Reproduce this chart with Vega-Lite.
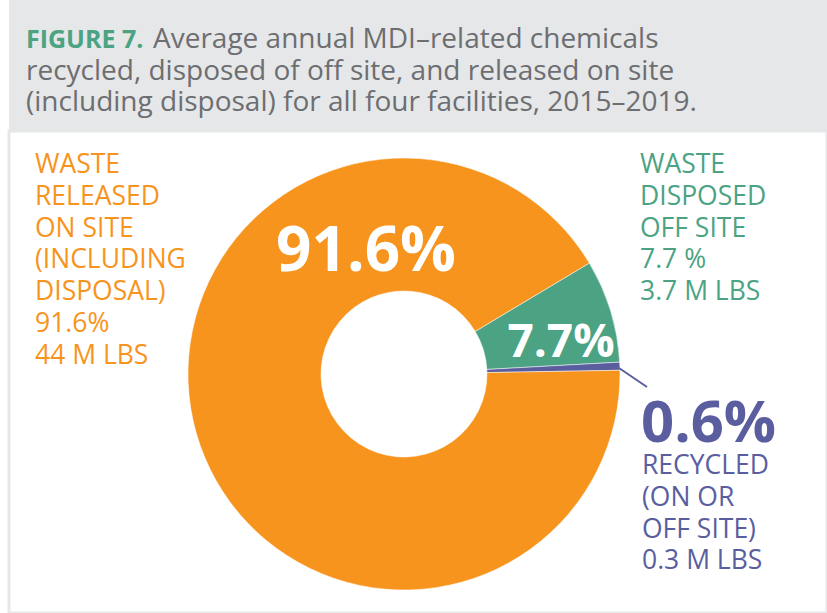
{
  "$schema": "https://vega.github.io/schema/vega-lite/v6.json",
  "background": "white",
  "padding": {"left": 7, "top": 0, "right": 0, "bottom": 0},
  "spacing": 0,
  "bounds": "flush",
  "config": {"view": {"stroke": null}, "font": "Open Sans"},
  "datasets": {
    "shares": [
      {"category": "Waste disposed off site", "pct": 7.7, "lbs": "3.7 M LBS", "order": 1},
      {"category": "Recycled (on or off site)", "pct": 0.6, "lbs": "0.3 M LBS", "order": 2},
      {"category": "Waste released on site (including disposal)", "pct": 91.6, "lbs": "44 M LBS", "order": 3}
    ],
    "labels": [
      {"id": "left", "text": "WASTE\nRELEASED\nON SITE\n(INCLUDING\nDISPOSAL)\n91.6%\n44 M LBS"},
      {"id": "right", "text": "WASTE\nDISPOSED\nOFF SITE\n7.7 %\n3.7 M LBS"},
      {"id": "recBig", "text": "0.6%"},
      {"id": "rec", "text": "RECYCLED\n(ON OR\nOFF SITE)\n0.3 M LBS"},
      {"id": "in1", "text": "91.6%"},
      {"id": "in2", "text": "7.7%"}
    ],
    "title": [
      {"line": 1, "part": "label", "text": "FIGURE 7."},
      {"line": 1, "part": "body1", "text": "Average annual MDI–related chemicals"},
      {"line": 2, "part": "body", "text": "recycled, disposed of off site, and released on site"},
      {"line": 3, "part": "body", "text": "(including disposal) for all four facilities, 2015–2019."}
    ]
  },
  "vconcat": [
    {
      "width": 820,
      "height": 131,
      "view": {"fill": "#e6e7e8", "stroke": null},
      "data": {"name": "title"},
      "encoding": {
        "y": {"field": "line", "type": "ordinal", "scale": {"type": "point", "domain": [1, 2, 3], "range": [48, 111], "padding": 0}, "axis": null},
        "text": {"field": "text"}
      },
      "layer": [
        {
          "transform": [{"filter": "datum.part === 'label'"}],
          "mark": {"type": "text", "align": "left", "baseline": "alphabetic", "fontSize": 25, "fontWeight": "bold", "font": "Open Sans", "color": "#4ba383"},
          "encoding": {"x": {"value": 17}}
        },
        {
          "transform": [{"filter": "datum.part === 'body1'"}],
          "mark": {"type": "text", "align": "left", "baseline": "alphabetic", "fontSize": 28, "font": "Open Sans", "color": "#6d6e71"},
          "encoding": {"x": {"value": 144}}
        },
        {
          "transform": [{"filter": "datum.part === 'body'"}],
          "mark": {"type": "text", "align": "left", "baseline": "alphabetic", "fontSize": 28, "font": "Open Sans", "color": "#6d6e71"},
          "encoding": {"x": {"value": 17}}
        }
      ]
    },
    {
      "width": 818,
      "height": 482,
      "view": {"fill": "white", "stroke": "#e6e7e8", "strokeWidth": 3},
      "layer": [
        {
          "data": {"name": "shares"},
          "mark": {"type": "arc", "innerRadius": 83, "outerRadius": 216, "stroke": "white", "strokeWidth": 0.5},
          "encoding": {
            "x": {"value": 395},
            "y": {"value": 243},
            "theta": {"field": "pct", "type": "quantitative", "stack": true, "scale": {"range": [1.0315, 7.3147]}},
            "order": {"field": "order", "type": "quantitative"},
            "color": {
              "field": "category",
              "type": "nominal",
              "scale": {
                "domain": ["Waste released on site (including disposal)", "Waste disposed off site", "Recycled (on or off site)"],
                "range": ["#f7941d", "#4ba383", "#5a5e9f"]
              },
              "legend": null
            }
          }
        },
        {
          "data": {"values": [{"a": 1}]},
          "mark": {"type": "rule", "color": "#5a5e9f", "strokeWidth": 2},
          "encoding": {"x": {"value": 610}, "y": {"value": 237}, "x2": {"value": 638}, "y2": {"value": 256}}
        },
        {
          "data": {"name": "labels"},
          "transform": [{"filter": "datum.id === 'left'"}],
          "mark": {"type": "text", "align": "left", "baseline": "alphabetic", "fontSize": 26.5, "lineBreak": "\n", "lineHeight": 31.8, "color": "#f7941d"},
          "encoding": {"x": {"value": 26}, "y": {"value": 42}, "text": {"field": "text"}}
        },
        {
          "data": {"name": "labels"},
          "transform": [{"filter": "datum.id === 'right'"}],
          "mark": {"type": "text", "align": "left", "baseline": "alphabetic", "fontSize": 26.5, "lineBreak": "\n", "lineHeight": 31.8, "color": "#4ba383"},
          "encoding": {"x": {"value": 631}, "y": {"value": 42}, "text": {"field": "text"}}
        },
        {
          "data": {"name": "labels"},
          "transform": [{"filter": "datum.id === 'recBig'"}],
          "mark": {"type": "text", "align": "left", "baseline": "alphabetic", "fontSize": 58, "fontWeight": "bold", "color": "#5a5e9f"},
          "encoding": {"x": {"value": 632}, "y": {"value": 311}, "text": {"field": "text"}}
        },
        {
          "data": {"name": "labels"},
          "transform": [{"filter": "datum.id === 'rec'"}],
          "mark": {"type": "text", "align": "left", "baseline": "alphabetic", "fontSize": 26.5, "lineBreak": "\n", "lineHeight": 31.8, "color": "#5a5e9f"},
          "encoding": {"x": {"value": 633}, "y": {"value": 343}, "text": {"field": "text"}}
        },
        {
          "data": {"name": "labels"},
          "transform": [{"filter": "datum.id === 'in1'"}],
          "mark": {"type": "text", "align": "center", "baseline": "alphabetic", "fontSize": 62, "fontWeight": "bold", "color": "white"},
          "encoding": {"x": {"value": 357}, "y": {"value": 140}, "text": {"field": "text"}}
        },
        {
          "data": {"name": "labels"},
          "transform": [{"filter": "datum.id === 'in2'"}],
          "mark": {"type": "text", "align": "center", "baseline": "alphabetic", "fontSize": 46, "fontWeight": "bold", "color": "white"},
          "encoding": {"x": {"value": 552}, "y": {"value": 226}, "text": {"field": "text"}}
        }
      ]
    }
  ]
}
